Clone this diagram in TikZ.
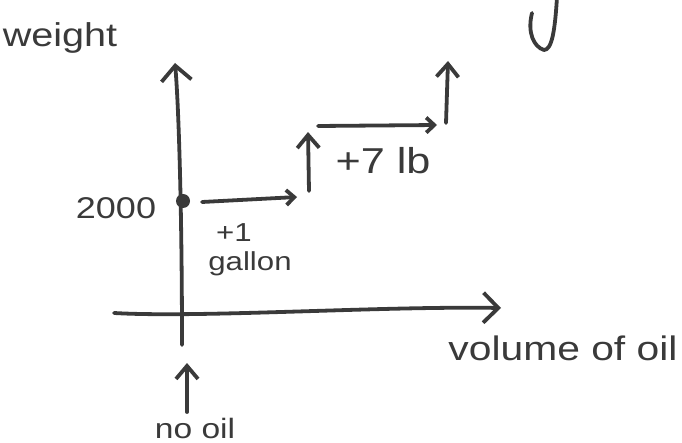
\documentclass[tikz,border=0pt]{standalone}
\usepackage{fontspec}
\setmainfont{Liberation Sans}
\newfontfamily\hand[FakeStretch=1.2]{Liberation Sans}
\usetikzlibrary{arrows.meta}
\definecolor{ink}{HTML}{3A3A3A}
\tikzset{
  lbl/.style={text=ink, inner sep=0pt, font=\hand},
  pen/.style={draw=ink, line width=3.8pt, line cap=round, line join=round},
  headbig/.style={-{Straight Barb[length=15pt,width=30pt]}},
  headmid/.style={-{Straight Barb[length=13pt,width=22pt]}},
  headsmall/.style={-{Straight Barb[length=8pt,width=15pt]}}
}
\begin{document}
\begin{tikzpicture}[x=1pt,y=-1pt]
\useasboundingbox (0,0) rectangle (682,443);
% axes
\coordinate (yb) at (182,345);
\coordinate (yt) at (175,63);
\coordinate (xl) at (114,313);
\coordinate (xr) at (501,308);
\draw[pen,headbig] (yb) .. controls (182,220) and (179,110) .. (yt);
\draw[pen,headbig] (xl) .. controls (200,318) and (380,306) .. (xr);
% start point
\node[circle, fill=ink, minimum size=14pt, inner sep=0pt] (p0) at (183,201) {};
% steps
\coordinate (a1s) at (202,202);
\coordinate (a1e) at (297,197);
\coordinate (u1s) at (309,191);
\coordinate (u1e) at (308,132);
\coordinate (a2s) at (318,126);
\coordinate (a2e) at (437,125);
\coordinate (u2s) at (446,123);
\coordinate (u2e) at (448,61);
\draw[pen,headsmall] (a1s) -- (a1e);
\draw[pen,headmid] (u1s) -- (u1e);
\draw[pen,headsmall] (a2s) -- (a2e);
\draw[pen,headmid] (u2s) -- (u2e);
% no oil arrow
\coordinate (nb) at (187,412);
\coordinate (nt) at (187,363);
\draw[pen,headmid] (nb) -- (nt);
% J-like stroke at top right
\coordinate (j0) at (557,-3);
\coordinate (j1) at (532,13);
\draw[pen] (j0) .. controls (555,30) and (552,50) .. (544,50) .. controls (534,47) and (527,33) .. (j1);
% labels
\node[lbl, font=\hand\fontsize{33}{36}\selectfont, anchor=base] (weight) at (60,47) {weight};
\node[lbl, font=\hand\fontsize{30}{34}\selectfont] (v2000) at (116,208) {2000};
\node[lbl, font=\hand\fontsize{26}{30}\selectfont] (plus1) at (234,233) {+1};
\node[lbl, font=\hand\fontsize{26}{30}\selectfont] (gallon) at (250,264) {gallon};
\node[lbl, font=\hand\fontsize{36}{40}\selectfont] (plus7) at (383,161) {+7 lb};
\node[lbl, font=\hand\fontsize{34}{38}\selectfont, anchor=base] (vol) at (563,360) {volume of oil};
\node[lbl, font=\hand\fontsize{28}{32}\selectfont, anchor=base] (nooil) at (195,438) {no oil};
\end{tikzpicture}
\end{document}
